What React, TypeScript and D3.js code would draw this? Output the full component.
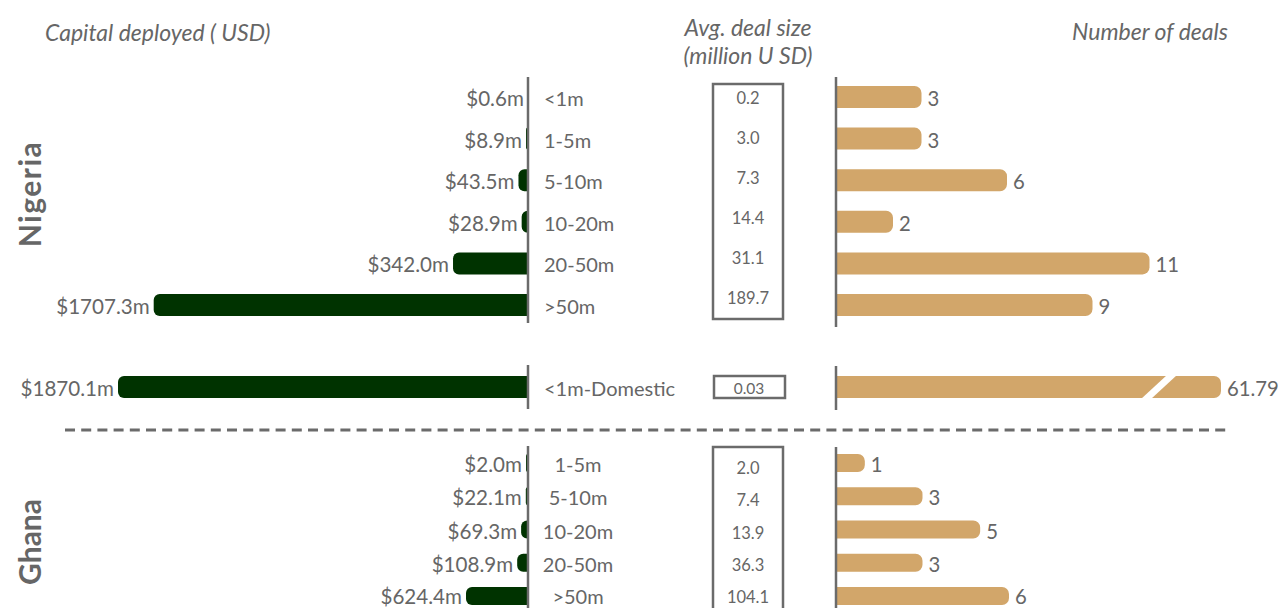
import React from "react";
import * as d3 from "d3";

// ---------- data ----------
const nigeriaCats = ["<1m", "1-5m", "5-10m", "10-20m", "20-50m", ">50m"];
const nigeriaCapital = [0.6, 8.9, 43.5, 28.9, 342.0, 1707.3];
const nigeriaAvg = [0.2, 3.0, 7.3, 14.4, 31.1, 189.7];
const nigeriaDeals = [3, 3, 6, 2, 11, 9];

const domesticCat = "<1m-Domestic";
const domesticCapital = 1870.1;
const domesticAvg = 0.03;
const domesticDeals = 61.79;

const ghanaCats = ["1-5m", "5-10m", "10-20m", "20-50m", ">50m"];
const ghanaCapital = [2.0, 22.1, 69.3, 108.9, 624.4];
const ghanaAvg = [2.0, 7.4, 13.9, 36.3, 104.1];
const ghanaDeals = [1, 3, 5, 3, 6];

const headers = {
  capital: "Capital deployed ( USD)",
  avg1: "Avg. deal size",
  avg2: "(million U SD)",
  deals: "Number of deals",
};
const countries = ["Nigeria", "Ghana"];

// ---------- style ----------
const GREEN = "#003300";
const TAN = "#D2A66A";
const TEXT = "#666666";
const AXIS = "#6b6b6b";
const FONT = "Lato, 'Open Sans', sans-serif";

const LEFT_AXIS = 528;
const RIGHT_AXIS = 836;
const BOX_CX = 748;
const MAX_DEAL_BAR = 385;

function leftRounded(x0: number, x1: number, y0: number, h: number, r: number) {
  const w = x1 - x0;
  const rr = Math.min(r, w, h / 2);
  return `M${x1},${y0}H${x0 + rr}A${rr},${rr} 0 0 0 ${x0},${y0 + rr}V${y0 + h - rr}A${rr},${rr} 0 0 0 ${x0 + rr},${y0 + h}H${x1}Z`;
}
function rightRounded(x0: number, x1: number, y0: number, h: number, r: number) {
  const w = x1 - x0;
  const rr = Math.min(r, w, h / 2);
  return `M${x0},${y0}H${x1 - rr}A${rr},${rr} 0 0 1 ${x1},${y0 + rr}V${y0 + h - rr}A${rr},${rr} 0 0 1 ${x1 - rr},${y0 + h}H${x0}Z`;
}

export default function App() {
  // scales
  const capNg = d3.scaleLinear().domain([0, domesticCapital]).range([0, 410]);
  const capGh = d3.scaleLinear().domain([0, 624.4]).range([0, 62]);
  const dealNg = d3.scaleLinear().domain([0, 10]).range([0, 285]);
  const dealGh = d3.scaleLinear().domain([0, 6]).range([0, 173]);
  const yNg = d3.scalePoint<string>().domain(nigeriaCats).range([97, 305]);
  const yNgBox = d3.scalePoint<string>().domain(nigeriaCats).range([98, 298]);
  const yGh = d3.scalePoint<string>().domain(ghanaCats).range([463, 596]);
  const yGhBox = d3.scalePoint<string>().domain(ghanaCats).range([468, 597]);
  const yDom = 387;

  const hNg = 22;
  const hGh = 18;
  const dy = 1;

  const valueFont = 20.6;
  const catFont = 20;
  const dealFont = 20.3;
  const boxFont = 16.5;

  const greenBar = (v: number, sc: d3.ScaleLinear<number, number>, cy: number, h: number, key: string, ddy: number) => {
    const w = Math.max(sc(v), v > 1 ? 2 : 0);
    const x0 = LEFT_AXIS - w;
    return (
      <g key={key}>
        {w > 0 && <path d={leftRounded(x0, LEFT_AXIS, cy - h / 2, h, 6)} fill={GREEN} />}
        <text x={x0 - 4} y={cy + ddy} textAnchor="end" dominantBaseline="central" fontSize={valueFont} fill={TEXT}>
          ${d3.format(".1f")(v)}m
        </text>
      </g>
    );
  };

  const tanBar = (v: number, sc: d3.ScaleLinear<number, number>, cy: number, h: number, key: string, label: string, ddy: number) => {
    const full = sc(v);
    const w = Math.min(full, MAX_DEAL_BAR);
    const broken = full > MAX_DEAL_BAR;
    const x1 = RIGHT_AXIS + w;
    const y0 = cy - h / 2;
    const bx = x1 - 66;
    return (
      <g key={key}>
        <path d={rightRounded(RIGHT_AXIS, x1, y0, h, 7)} fill={TAN} />
        {broken && (
          <polygon
            points={`${bx - 14},${y0 + h + 1} ${bx - 4},${y0 + h + 1} ${bx + 22},${y0 - 1} ${bx + 12},${y0 - 1}`}
            fill="#ffffff"
          />
        )}
        <text x={x1 + 6} y={cy + ddy} textAnchor="start" dominantBaseline="central" fontSize={dealFont} fill={TEXT}>
          {label}
        </text>
      </g>
    );
  };

  const axisW = 2.5;
  const ghDy = (i: number) => (i === ghanaCats.length - 1 ? 0 : dy);

  return (
    <svg
      width={1282}
      height={608}
      style={{ position: "absolute", left: 0, top: 0, background: "#fff" }}
      fontFamily={FONT}
    >
      {/* headers */}
      <text x={45} y={41} fontSize={23} fontStyle="italic" fill={TEXT}>{headers.capital}</text>
      <text x={BOX_CX} y={36} fontSize={23} fontStyle="italic" fill={TEXT} textAnchor="middle">{headers.avg1}</text>
      <text x={BOX_CX} y={64} fontSize={23} fontStyle="italic" fill={TEXT} textAnchor="middle">{headers.avg2}</text>
      <text x={1228} y={40} fontSize={23} fontStyle="italic" fill={TEXT} textAnchor="end">{headers.deals}</text>

      {/* country labels */}
      <text transform="translate(29,194) rotate(-90)" textAnchor="middle" dominantBaseline="central" fontSize={30} fontWeight="bold" letterSpacing={1.5} fill={TEXT}>
        {countries[0]}
      </text>
      <text transform="translate(29,542) rotate(-90)" textAnchor="middle" dominantBaseline="central" fontSize={30} fontWeight="bold" fill={TEXT}>
        {countries[1]}
      </text>

      {/* Nigeria */}
      {nigeriaCats.map((c, i) => greenBar(nigeriaCapital[i], capNg, yNg(c)!, hNg, "ng" + i, dy))}
      {nigeriaCats.map((c, i) => (
        <text key={"ngc" + i} x={544} y={yNg(c)! + dy} dominantBaseline="central" fontSize={catFont} fill={TEXT}>{c}</text>
      ))}
      {nigeriaCats.map((c, i) => tanBar(nigeriaDeals[i], dealNg, yNg(c)!, hNg, "ngd" + i, String(nigeriaDeals[i]), dy))}
      <rect x={713} y={84} width={70} height={235} fill="none" stroke={AXIS} strokeWidth={2.5} />
      {nigeriaCats.map((c, i) => (
        <text key={"nga" + i} x={BOX_CX} y={yNgBox(c)!} textAnchor="middle" dominantBaseline="central" fontSize={boxFont} fill={TEXT}>
          {d3.format(".1f")(nigeriaAvg[i])}
        </text>
      ))}
      <line x1={LEFT_AXIS} x2={LEFT_AXIS} y1={77} y2={323} stroke={AXIS} strokeWidth={axisW} />
      <line x1={RIGHT_AXIS} x2={RIGHT_AXIS} y1={77} y2={327} stroke={AXIS} strokeWidth={axisW} />

      {/* Domestic */}
      {greenBar(domesticCapital, capNg, yDom, 22, "dom", dy)}
      <text x={544} y={yDom + dy} dominantBaseline="central" fontSize={catFont} fill={TEXT}>{domesticCat}</text>
      {tanBar(domesticDeals, dealNg, yDom, 22, "domd", String(domesticDeals), dy)}
      <rect x={714} y={376} width={71} height={22} fill="none" stroke={AXIS} strokeWidth={2.5} />
      <text x={749} y={388} textAnchor="middle" dominantBaseline="central" fontSize={15.5} fill={TEXT}>{domesticAvg}</text>
      <line x1={LEFT_AXIS} x2={LEFT_AXIS} y1={365} y2={409} stroke={AXIS} strokeWidth={axisW} />
      <line x1={RIGHT_AXIS} x2={RIGHT_AXIS} y1={366} y2={410} stroke={AXIS} strokeWidth={axisW} />

      {/* separator */}
      <line x1={65} x2={1226} y1={430} y2={430} stroke={AXIS} strokeWidth={3} strokeDasharray="10 6.2" />

      {/* Ghana */}
      {ghanaCats.map((c, i) => greenBar(ghanaCapital[i], capGh, yGh(c)!, hGh, "gh" + i, ghDy(i)))}
      {ghanaCats.map((c, i) => (
        <text key={"ghc" + i} x={578} y={yGh(c)! + ghDy(i)} textAnchor="middle" dominantBaseline="central" fontSize={catFont} fill={TEXT}>{c}</text>
      ))}
      {ghanaCats.map((c, i) => tanBar(ghanaDeals[i], dealGh, yGh(c)!, hGh, "ghd" + i, String(ghanaDeals[i]), ghDy(i)))}
      <rect x={713} y={447} width={70} height={180} fill="none" stroke={AXIS} strokeWidth={2.5} />
      {ghanaCats.map((c, i) => (
        <text key={"gha" + i} x={BOX_CX} y={yGhBox(c)!} textAnchor="middle" dominantBaseline="central" fontSize={boxFont} fill={TEXT}>
          {d3.format(".1f")(ghanaAvg[i])}
        </text>
      ))}
      <line x1={LEFT_AXIS} x2={LEFT_AXIS} y1={446} y2={610} stroke={AXIS} strokeWidth={axisW} />
      <line x1={RIGHT_AXIS} x2={RIGHT_AXIS} y1={447} y2={610} stroke={AXIS} strokeWidth={axisW} />
    </svg>
  );
}
